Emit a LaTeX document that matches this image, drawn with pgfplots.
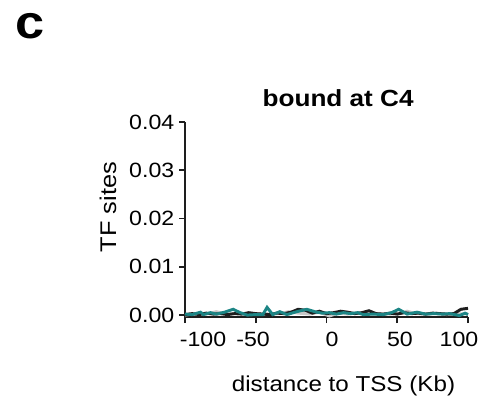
\documentclass[border=0pt]{standalone}
\usepackage{pgfplots}
\pgfplotsset{compat=1.18}
\usepackage{fontspec}
\setmainfont[FakeStretch=1.12]{Liberation Sans}
\definecolor{tealc}{HTML}{1C8585}
\definecolor{grayc}{HTML}{C8C8C8}
\definecolor{blackc}{HTML}{1E1E1E}
\begin{document}
\begin{tikzpicture}
\path[use as bounding box] (0,0) rectangle (368.25pt,297pt);
\node[font=\fontsize{35}{38}\bfseries\selectfont, anchor=base, inner sep=0pt] at (22.5pt,268pt) {c};
\begin{axis}[
  at={(138.75pt,59.25pt)}, anchor=south west,
  scale only axis, width=212.25pt, height=146.25pt,
  xmin=-100, xmax=100, ymin=-0.0004, ymax=0.04,
  axis lines=left, axis line style={-, line width=1.3pt, color=blackc},
  tick style={line width=1.3pt, color=blackc},
  tick align=outside, major tick length=4.5pt,
  xtick={-100,-50,0,50,100}, xticklabels={},
  extra x ticks={-87.3,-51.9,3.9,51.9,93.6},
  extra x tick labels={-100,-50,0,50,100},
  extra x tick style={major tick length=0pt, tick style={draw=none}, xticklabel style={yshift=-8pt}},
  ytick={0,0.01,0.02,0.03,0.04},
  yticklabel style={/pgf/number format/fixed, /pgf/number format/precision=2, /pgf/number format/fixed zerofill},
  scaled y ticks=false,
  /pgf/number format/assume math mode=true,
  ticklabel style={font=\fontsize{15.5}{18}\selectfont},
  title={bound at C4},
  title style={at={(rel axis cs:0.541,1.082)}, anchor=center, font=\fontsize{17.5}{20}\bfseries\selectfont},
  xlabel={distance to TSS (Kb)},
  xlabel style={at={(rel axis cs:0.56,-0.354)}, anchor=center, font=\fontsize{16.2}{19}\selectfont},
  ylabel={TF sites},
  ylabel style={at={(rel axis cs:-0.272,0.564)}, anchor=center, rotate=0, font=\fontsize{17}{20}\selectfont},
  clip=false,
]
\addplot[grayc, line width=2.2pt] coordinates {
(-100,0.0000) (-92,0.0003) (-85,0.0002) (-78,0.0007) (-70,0.0002) (-62,0.0004) (-55,0.0001) (-48,0.0003) (-40,0.0002) (-33,0.0003) (-27,0.0007) (-20,0.0004) (-12,0.0002) (-5,0.0006) (2,-0.0002) (8,0.0004) (15,0.0002) (22,0.0005) (30,0.0002) (38,0.0003) (45,0.0002) (52,0.0004) (57,0.0008) (63,0.0003) (70,0.0002) (78,0.0004) (85,0.0001) (92,0.0003) (100,0.0002)
};
\addplot[blackc, line width=2.2pt] coordinates {
(-100,0.0001) (-95,0.0003) (-90,0.0001) (-85,0.0004) (-80,0.0002) (-75,0.0003) (-70,0.0001) (-65,0.0003) (-60,0.0002) (-55,0.0005) (-50,0.0003) (-45,0.0002) (-40,0.0001) (-35,0.0004) (-30,0.0003) (-25,0.0006) (-20,0.0012) (-15,0.0010) (-10,0.0004) (-5,0.0008) (0,0.0003) (5,0.0005) (10,0.0008) (15,0.0006) (20,0.0003) (25,0.0005) (30,0.0009) (35,0.0003) (40,0.0002) (45,0.0004) (50,0.0002) (55,0.0005) (60,0.0003) (65,0.0004) (70,0.0002) (75,0.0004) (80,0.0003) (85,0.0002) (90,0.0003) (95,0.0012) (100,0.0014)
};
\addplot[tealc, line width=2.2pt] coordinates {
(-100,0.0002) (-95,0.0001) (-89,0.0006) (-87,0.0001) (-82,0.0005) (-78,0.0002) (-72,0.0006) (-66,0.0012) (-61,0.0005) (-56,0.0000) (-50,0.0001) (-45,0.0001) (-42,0.0016) (-38,0.0001) (-33,0.0007) (-28,0.0001) (-21,0.0007) (-14,0.0012) (-7,0.0006) (-3,0.0004) (2,0.0005) (7,0.0002) (12,0.0005) (17,0.0003) (22,0.0005) (26,0.0001) (33,0.0002) (40,0.0001) (46,0.0005) (51,0.0012) (57,0.0002) (64,0.0006) (70,0.0002) (76,0.0003) (82,0.0002) (87,0.0003) (94,-0.0001) (98,0.0004) (100,0.0001)
};
\end{axis}
\end{tikzpicture}
\end{document}
